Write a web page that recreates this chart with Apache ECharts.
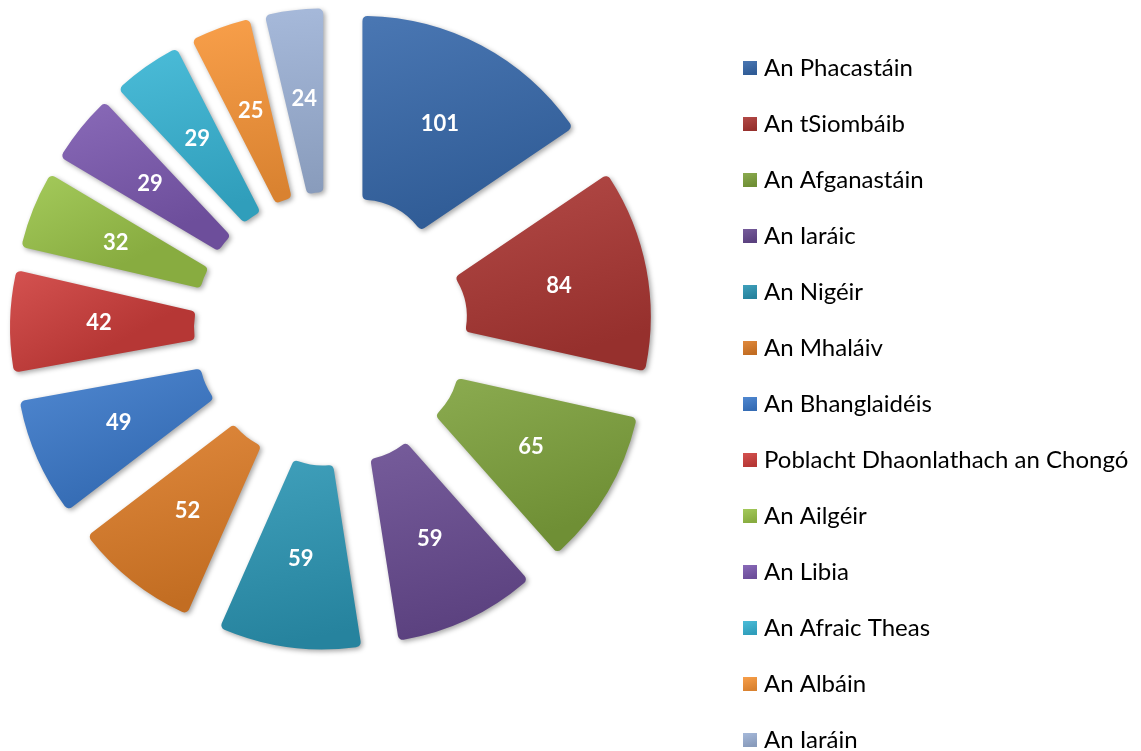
<!DOCTYPE html>
<html>
<head>
<meta charset="utf-8">
<script src="https://cdn.jsdelivr.net/npm/echarts@6/dist/echarts.min.js"></script>
<style>
  html, body { margin: 0; padding: 0; background: #fff; }
  #chart { width: 1141px; height: 751px; }
</style>
</head>
<body>
<div id="chart"></div>
<script>
const countries = [
  'An Phacastáin', 'An tSiombáib', 'An Afganastáin', 'An Iaráic', 'An Nigéir',
  'An Mhaláiv', 'An Bhanglaidéis', 'Poblacht Dhaonlathach an Chongó', 'An Ailgéir',
  'An Libia', 'An Afraic Theas', 'An Albáin', 'An Iaráin'
]
const counts = [101, 84, 65, 59, 59, 52, 49, 42, 32, 29, 29, 25, 24]
const sliceColors = [
  '#3668aa', '#ab3633', '#7ea23c', '#674a90', '#2b95b3', '#dd7c27',
  '#3c7bcc', '#cf3f3c', '#9ac449', '#7c59b0', '#37b4d4', '#f79436', '#9cb1d6'
]

// lighten / darken a hex colour a bit for the bevel-ish gradient
function shade(hex, amt) {
  const n = parseInt(hex.slice(1), 16)
  let r = (n >> 16) & 255, g = (n >> 8) & 255, b = n & 255
  const f = v => Math.max(0, Math.min(255, Math.round(amt > 0 ? v + (255 - v) * amt : v * (1 + amt))))
  return 'rgb(' + f(r) + ',' + f(g) + ',' + f(b) + ')'
}

const data = counts.map((v, i) => ({
  name: countries[i],
  value: v,
  selected: true,
  itemStyle: {
    color: {
      type: 'linear', x: 0, y: 0, x2: 0.3, y2: 1,
      colorStops: [
        { offset: 0, color: shade(sliceColors[i], 0.1) },
        { offset: 1, color: shade(sliceColors[i], -0.12) }
      ]
    }
  }
}))

const chart = echarts.init(document.getElementById('chart'))
chart.setOption({
  animation: false,
  legend: {
    orient: 'vertical',
    left: 743,
    top: 56,
    height: 720,
    padding: 0,
    itemWidth: 14,
    itemHeight: 14,
    itemGap: 32,
    icon: 'rect',
    selectedMode: false,
    textStyle: {
      fontFamily: 'Lato',
      fontSize: 24,
      color: '#000',
      padding: [0, 0, 0, 2]
    },
    data: countries
  },
  series: [
    {
      type: 'pie',
      center: [331, 329],
      radius: [70, 254],
      startAngle: 90,
      clockwise: true,
      selectedMode: 'multiple',
      selectedOffset: 67,
      avoidLabelOverlap: false,
      itemStyle: {
        borderRadius: 5,
        shadowBlur: 5,
        shadowOffsetX: 2,
        shadowOffsetY: 2,
        shadowColor: 'rgba(0,0,0,0.35)'
      },
      label: {
        show: true,
        position: 'inside',
        formatter: '{c}',
        color: '#fff',
        fontFamily: 'Lato',
        fontWeight: 'bold',
        fontSize: 22
      },
      labelLine: { show: false },
      emphasis: { disabled: true },
      data: data
    }
  ]
})
</script>
</body>
</html>
